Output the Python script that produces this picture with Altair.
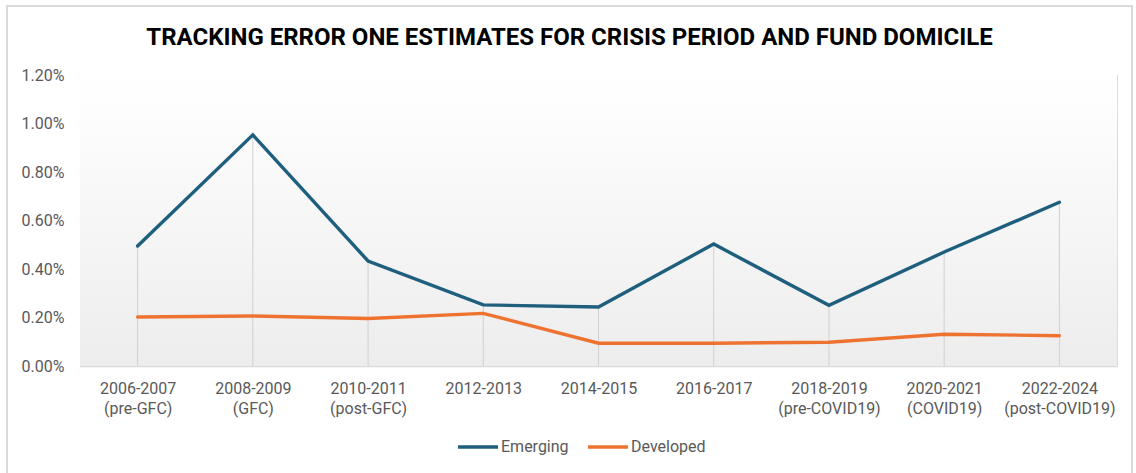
import altair as alt
import pandas as pd

periods = ["2006-2007", "2008-2009", "2010-2011", "2012-2013", "2014-2015",
           "2016-2017", "2018-2019", "2020-2021", "2022-2024"]
subtitles = ["(pre-GFC)", "(GFC)", "(post-GFC)", "", "", "",
             "(pre-COVID19)", "(COVID19)", "(post-COVID19)"]
emerging = [0.00495, 0.00953, 0.00433, 0.00252, 0.00243, 0.00503, 0.00250, 0.00470, 0.00675]
developed = [0.00202, 0.00206, 0.00196, 0.00217, 0.00094, 0.00094, 0.00098, 0.00131, 0.00125]
series_names = ["Emerging", "Developed"]
series_colors = ["#1f5f7e", "#ee7331"]
y_ticks = [0.0, 0.002, 0.004, 0.006, 0.008, 0.010, 0.012]

keys = [p + "|" + s for p, s in zip(periods, subtitles)]

rows = []
for k, e, d in zip(keys, emerging, developed):
    rows.append({"key": k, "series": "Emerging", "value": e})
    rows.append({"key": k, "series": "Developed", "value": d})
df = pd.DataFrame(rows)
drop = pd.DataFrame({"key": keys, "top": [max(e, d) for e, d in zip(emerging, developed)],
                     "base": [0.0] * len(keys)})

W, H = 1037, 291
FONT = "Roboto"
LABEL_COLOR = "#595959"

xenc = alt.X("key:N", sort=keys, scale=alt.Scale(type="point", padding=0.5),
             axis=alt.Axis(title=None, labelExpr="split(datum.label, '|')",
                           labelAngle=0, ticks=False, labelPadding=14,
                           labelFontSize=16, labelFont=FONT, labelColor=LABEL_COLOR,
                           labelLineHeight=20, domainColor="#d9d9d9", domainWidth=1.5,
                           grid=False))
yscale = alt.Scale(domain=[0, 0.012], nice=False)

one = pd.DataFrame({"a": [0]})

border = alt.Chart(one).mark_rect(fill="transparent", stroke="#d9d9d9", strokeWidth=2,
                                  clip=False).encode(
    x=alt.value(-73), x2=alt.value(1052), y=alt.value(-69), y2=alt.value(430))

bg = alt.Chart(one).mark_rect(
    color=alt.LinearGradient(
        gradient="linear",
        stops=[alt.GradientStop(color="#ffffff", offset=0),
               alt.GradientStop(color="#fcfcfc", offset=0.18),
               alt.GradientStop(color="#ededed", offset=1)],
        x1=0, x2=0, y1=0, y2=1)
).encode(x=alt.value(0), x2=alt.value(W), y=alt.value(0), y2=alt.value(H))

rules = alt.Chart(drop).mark_rule(color="#d0d0d0", strokeWidth=1).encode(
    x=xenc,
    y=alt.Y("top:Q", scale=yscale),
    y2="base:Q")

lines = alt.Chart(df).mark_line(strokeWidth=3.4, strokeCap="round").encode(
    x=xenc,
    y=alt.Y("value:Q", scale=yscale,
            axis=alt.Axis(title=None, values=y_ticks, format=".2%", ticks=False,
                          domain=False, grid=False, labelPadding=16,
                          labelFontSize=16, labelFont=FONT, labelColor=LABEL_COLOR)),
    color=alt.Color("series:N",
                    scale=alt.Scale(domain=series_names, range=series_colors),
                    legend=alt.Legend(title=None, orient="none", legendX=376, legendY=350,
                                      direction="horizontal", symbolType="stroke",
                                      symbolSize=1600, symbolStrokeWidth=3.5,
                                      labelFontSize=16, labelFont=FONT,
                                      labelColor=LABEL_COLOR, labelOffset=1,
                                      columnPadding=12)),
    order=alt.Order("key:N"))

chart = alt.layer(border, bg, rules, lines).properties(
    width=W, height=H,
    autosize=alt.AutoSizeParams(type="none"),
    padding={"left": 80, "top": 75, "right": 19, "bottom": 107},
    title=alt.Title("TRACKING ERROR ONE ESTIMATES FOR CRISIS PERIOD AND FUND DOMICILE",
                    font=FONT, fontSize=24, fontWeight="bold", color="#000000",
                    anchor="middle", frame="bounds", offset=20, dy=65)
).configure_view(stroke=None).configure(background="white")

chart.save("out.html", embed_options={"renderer": "svg", "actions": False})
